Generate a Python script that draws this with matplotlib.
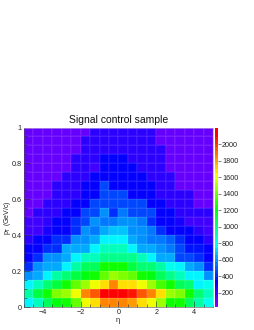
# -*- coding: utf-8 -*-
import numpy as np
import matplotlib
matplotlib.use('Agg')
import matplotlib.pyplot as plt
from matplotlib.colors import LinearSegmentedColormap
from matplotlib.ticker import MultipleLocator

plt.rcParams['font.family'] = ['Liberation Sans', 'DejaVu Sans']

# bin edges
eta_edges = np.linspace(-5, 5, 21)
pt_edges = np.linspace(0, 1, 21)

# counts per row, from pT = 0 upwards
row_00 = [800, 920, 1100, 1230, 1280, 1400, 1600, 1720, 1860, 1860, 1860, 1850, 1720, 1600, 1470, 1250, 1270, 1100, 980, 840]
row_01 = [950, 1130, 1250, 1420, 1500, 1620, 1860, 1950, 2170, 2170, 2170, 2080, 1950, 1870, 1720, 1500, 1420, 1250, 1050, 920]
row_02 = [800, 920, 1050, 1120, 1250, 1390, 1500, 1620, 1720, 1880, 1720, 1720, 1620, 1470, 1370, 1250, 1100, 1050, 800, 840]
row_03 = [600, 680, 800, 960, 1040, 1130, 1240, 1280, 1400, 1480, 1430, 1390, 1270, 1240, 1100, 1020, 920, 800, 800, 600]
row_04 = [450, 600, 670, 670, 800, 960, 1100, 1100, 1250, 1250, 1250, 1130, 1050, 1050, 960, 840, 800, 660, 600, 450]
row_05 = [350, 450, 600, 600, 670, 800, 920, 920, 1020, 1020, 1020, 1020, 920, 800, 670, 670, 500, 500, 430, 350]
row_06 = [350, 370, 450, 450, 640, 680, 680, 800, 900, 900, 900, 780, 680, 680, 600, 590, 480, 380, 400, 350]
row_07 = [260, 340, 340, 430, 430, 600, 600, 660, 800, 800, 800, 660, 600, 580, 560, 550, 430, 350, 340, 290]
row_08 = [230, 240, 310, 350, 350, 460, 600, 580, 670, 700, 690, 600, 600, 570, 450, 370, 350, 340, 270, 230]
row_09 = [220, 220, 280, 340, 350, 450, 470, 600, 590, 590, 600, 600, 570, 430, 360, 350, 320, 240, 220, 220]
row_10 = [150, 260, 270, 270, 340, 370, 490, 480, 600, 450, 590, 480, 480, 470, 360, 350, 290, 280, 270, 260]
row_11 = [140, 140, 260, 260, 260, 340, 350, 480, 470, 470, 470, 470, 470, 350, 350, 290, 290, 280, 140, 140]
row_12 = [140, 140, 140, 270, 270, 250, 340, 350, 470, 470, 470, 350, 350, 350, 280, 280, 280, 280, 140, 140]
row_13 = [140, 140, 140, 260, 260, 260, 340, 350, 470, 350, 350, 350, 350, 350, 280, 280, 140, 140, 140, 140]
row_14 = [140, 140, 140, 140, 260, 260, 260, 340, 350, 350, 350, 350, 350, 270, 270, 270, 140, 140, 140, 140]
row_15 = [140, 140, 140, 140, 140, 260, 260, 230, 340, 340, 340, 340, 280, 280, 280, 130, 130, 130, 130, 130]
row_16 = [130, 130, 130, 130, 130, 260, 260, 260, 340, 340, 340, 270, 270, 270, 270, 130, 130, 130, 130, 130]
row_17 = [130, 130, 130, 130, 130, 130, 260, 260, 260, 260, 270, 270, 270, 270, 270, 130, 130, 130, 130, 130]
row_18 = [130, 130, 130, 130, 130, 130, 260, 260, 260, 260, 270, 270, 270, 270, 130, 130, 130, 130, 130, 130]
row_19 = [130, 130, 130, 130, 130, 130, 130, 260, 260, 260, 270, 270, 270, 270, 130, 130, 130, 130, 130, 130]

counts = np.array([row_00, row_01, row_02, row_03, row_04, row_05, row_06, row_07, row_08, row_09,
                   row_10, row_11, row_12, row_13, row_14, row_15, row_16, row_17, row_18, row_19])

z_min = 30
z_max = 2200
bar_ticks = [200, 400, 600, 800, 1000, 1200, 1400, 1600, 1800, 2000]

# rainbow palette, stops taken from the colour bar
stops = [(30, (0.55, 0, 1)), (350, (0, 0, 1)), (800, (0, 1, 1)), (1250, (0, 1, 0)),
         (1650, (1, 1, 0)), (2150, (1, 0, 0)), (2200, (1, 0, 0))]
palette = LinearSegmentedColormap.from_list(
    'root_rainbow', [((v - z_min) / (z_max - z_min), c) for v, c in stops], N=50)

W, H = 255, 330
fig = plt.figure(figsize=(W / 100, H / 100), dpi=100)
ax = fig.add_axes([24 / W, 1 - 307 / H, 189 / W, 179.5 / H])
mesh = ax.pcolormesh(eta_edges, pt_edges, counts, cmap=palette, vmin=z_min, vmax=z_max,
                     edgecolors=(1, 1, 1, 0.06), linewidth=0.25)

ax.set_xlim(-5, 5)
ax.set_ylim(0, 1)
ax.xaxis.set_major_locator(MultipleLocator(2))
ax.xaxis.set_minor_locator(MultipleLocator(0.5))
ax.yaxis.set_major_locator(MultipleLocator(0.2))
ax.yaxis.set_minor_locator(MultipleLocator(0.05))
ax.set_yticks([0, 0.2, 0.4, 0.6, 0.8, 1], ['0', '0.2', '0.4', '0.6', '0.8', '1'])
ax.tick_params(which='major', direction='in', length=4.2, width=0.4, color='#222222',
               labelsize=5.2, pad=1.5, labelcolor='#222222')
ax.tick_params(which='minor', direction='in', length=2, width=0.4, color='#222222')

for side in ['top', 'right']:
    ax.spines[side].set_color('#b9a0e8')
    ax.spines[side].set_linewidth(0.5)
for side in ['left', 'bottom']:
    ax.spines[side].set_color('#444444')
    ax.spines[side].set_linewidth(0.4)

ax.set_title('Signal control sample', fontsize=7.5, pad=3.5, color='#111111')
fig.text(117.5 / W, 1 - 320.5 / H, 'η', fontsize=5.4, ha='center', va='center', color='#222222')
fig.text(8 / W, 1 - 218 / H, r'p$_{\mathrm{T}}$ (GeV/c)', fontsize=5, rotation=90,
         ha='center', va='center', color='#222222')

cax = fig.add_axes([215 / W, 1 - 307 / H, 3.4 / W, 179.5 / H])
bar = fig.colorbar(mesh, cax=cax, ticks=bar_ticks)
bar.outline.set_linewidth(0)
bar.solids.set_edgecolor('face')
bar.ax.tick_params(direction='out', length=2.2, width=0.4, color='#222222',
                   labelsize=5.2, pad=0.4, labelcolor='#222222')

fig.savefig('out.png', dpi=100)
